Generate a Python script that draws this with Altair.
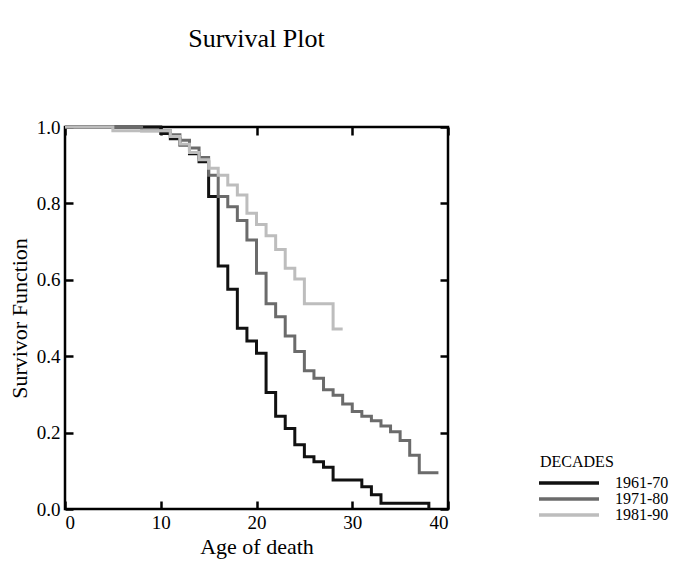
import altair as alt
import pandas as pd

# ---- data ----
decades = ["1961-70", "1971-80", "1981-90"]

age_6170 = [0, 10, 11, 12, 13, 14, 15, 16, 17, 18, 19, 20, 21, 22, 23, 24, 25, 26, 27, 28, 31, 32, 33, 38]
surv_6170 = [1.0, 0.983, 0.969, 0.953, 0.93, 0.909, 0.818, 0.636, 0.575, 0.473, 0.44, 0.408, 0.305, 0.243,
             0.211, 0.168, 0.137, 0.124, 0.109, 0.076, 0.058, 0.037, 0.015, 0.0]

age_7180 = [0, 8, 11, 12, 13, 14, 15, 16, 17, 18, 19, 20, 21, 22, 23, 24, 25, 26, 27, 28, 29, 30,
            31, 32, 33, 34, 35, 36, 37, 39]
surv_7180 = [1.0, 0.99, 0.98, 0.965, 0.945, 0.92, 0.874, 0.818, 0.791, 0.755, 0.704, 0.617, 0.537, 0.503,
             0.453, 0.412, 0.362, 0.342, 0.312, 0.298, 0.275, 0.255, 0.243, 0.231, 0.217, 0.202, 0.179,
             0.141, 0.095, 0.095]

age_8190 = [0, 5, 11, 12, 13, 14, 15, 16, 17, 18, 19, 20, 21, 22, 23, 24, 25, 28, 29]
surv_8190 = [1.0, 0.99, 0.975, 0.955, 0.933, 0.914, 0.892, 0.874, 0.848, 0.822, 0.774, 0.745, 0.715,
             0.679, 0.63, 0.602, 0.537, 0.471, 0.471]

x_ticks = [0, 10, 20, 30, 40]
y_ticks = [0.0, 0.2, 0.4, 0.6, 0.8, 1.0]
colors = ["#111111", "#6b6b6b", "#bdbdbd"]

rows = []
for d, ages, survs in zip(decades, [age_6170, age_7180, age_8190], [surv_6170, surv_7180, surv_8190]):
    for i, (a, s) in enumerate(zip(ages, survs)):
        rows.append({"decade": d, "age": a, "surv": s, "order": i})
df = pd.DataFrame(rows)

FONT = "Liberation Serif"

x_scale = alt.Scale(domain=[0, 40], nice=False, zero=False)
y_scale = alt.Scale(domain=[0, 1], nice=False, zero=False)

TICK = 8

lines = alt.Chart(df).mark_line(interpolate="step-after", strokeWidth=3).encode(
    x=alt.X("age:Q", scale=x_scale, title="Age of death",
            axis=alt.Axis(values=x_ticks, format="d", orient="bottom", offset=-TICK, tickSize=TICK,
                          tickWidth=2.5, tickColor="black", domain=False, grid=False,
                          labelPadding=4, labelFontSize=19, labelFont=FONT, labelColor="black",
                          titleFont=FONT, titleFontSize=22, titleFontWeight="normal", titleColor="black",
                          titlePadding=4)),
    y=alt.Y("surv:Q", scale=y_scale, title="Survivor Function",
            axis=alt.Axis(values=y_ticks, format=".1f", orient="left", offset=-TICK, tickSize=TICK,
                          tickWidth=2.5, tickColor="black", domain=False, grid=False,
                          labelPadding=5, labelFontSize=19, labelFont=FONT, labelColor="black",
                          titleFont=FONT, titleFontSize=22, titleFontWeight="normal", titleColor="black",
                          titlePadding=5)),
    color=alt.Color("decade:N", scale=alt.Scale(domain=decades, range=colors),
                    legend=alt.Legend(title="DECADES", orient="none", legendX=475, legendY=327,
                                      symbolType="M-8,0H8", symbolSize=56.25, symbolStrokeWidth=3.5,
                                      symbolOffset=21,
                                      titleFont=FONT, titleFontSize=16, titleFontWeight="normal",
                                      titleColor="black", labelFont=FONT, labelFontSize=16,
                                      labelColor="black", labelOffset=38, rowPadding=0,
                                      titlePadding=5)),
    order="order:Q",
)

mirror = alt.Chart(df).mark_line(opacity=0).encode(
    x=alt.X("age:Q", scale=x_scale, title=None,
            axis=alt.Axis(values=x_ticks, orient="top", offset=-TICK, tickSize=TICK, tickWidth=2.5,
                          tickColor="black", domain=False, grid=False, labels=False)),
    y=alt.Y("surv:Q", scale=y_scale, title=None,
            axis=alt.Axis(values=y_ticks, orient="right", offset=-TICK, tickSize=TICK, tickWidth=2.5,
                          tickColor="black", domain=False, grid=False, labels=False)),
)

chart = alt.layer(mirror, lines).resolve_axis(x="independent", y="independent").properties(
    width=383, height=382,
    autosize=alt.AutoSizeParams(type="none"),
    padding={"left": 57, "top": 119, "right": 225, "bottom": 56},
    title=alt.TitleParams("Survival Plot", font=FONT, fontSize=26, fontWeight="normal",
                          color="black", anchor="middle", offset=66),
).configure_view(stroke="black", strokeWidth=2.5)

chart.save("out.html", embed_options={"renderer": "svg", "actions": False})
